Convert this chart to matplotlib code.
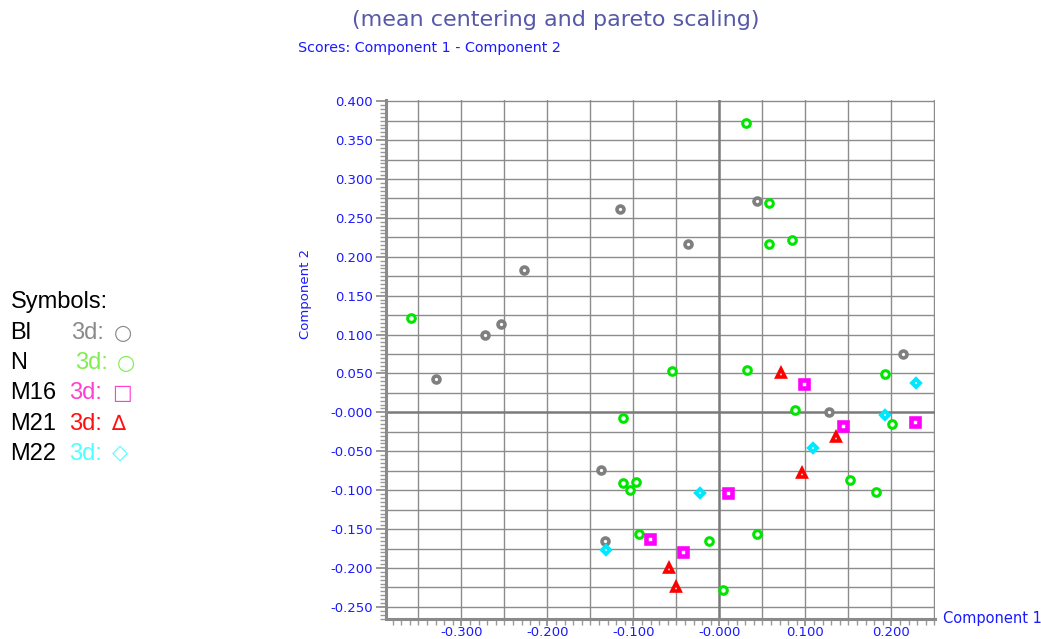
import numpy as np
import matplotlib
matplotlib.use("Agg")
import matplotlib.pyplot as plt
from matplotlib.ticker import MultipleLocator

# Scores (Component 1, Component 2) per group
bl_x = [-0.330, -0.272, -0.254, -0.227, -0.116, -0.036, 0.044, 0.214, 0.128, -0.138, -0.133]
bl_y = [0.043, 0.100, 0.114, 0.183, 0.262, 0.216, 0.272, 0.075, 0.001, -0.074, -0.165]

n_x = [-0.358, -0.055, 0.031, 0.058, 0.058, 0.085, 0.032, 0.192, 0.088, 0.201,
       0.152, 0.182, 0.044, -0.012, 0.004, -0.112, -0.112, -0.097, -0.104, -0.094]
n_y = [0.121, 0.053, 0.372, 0.269, 0.217, 0.222, 0.054, 0.049, 0.003, -0.015,
       -0.087, -0.102, -0.156, -0.165, -0.228, -0.007, -0.091, -0.089, -0.100, -0.156]

m16_x = [0.098, 0.144, 0.228, 0.010, -0.042, -0.081]
m16_y = [0.037, -0.017, -0.012, -0.103, -0.179, -0.163]

m21_x = [0.072, 0.136, 0.096, -0.058, -0.050]
m21_y = [0.051, -0.032, -0.078, -0.200, -0.224]

m22_x = [0.229, 0.193, 0.109, -0.023, -0.132]
m22_y = [0.038, -0.003, -0.046, -0.104, -0.177]

x_ticks = [-0.3, -0.2, -0.1, 0.0, 0.1, 0.2]
x_labels = ["-0.300", "-0.200", "-0.100", "-0.000", "0.100", "0.200"]
y_ticks = [-0.25, -0.2, -0.15, -0.1, -0.05, 0.0, 0.05, 0.1, 0.15, 0.2, 0.25, 0.3, 0.35, 0.4]
y_labels = ["-0.250", "-0.200", "-0.150", "-0.100", "-0.050", "-0.000", "0.050",
            "0.100", "0.150", "0.200", "0.250", "0.300", "0.350", "0.400"]

# legend rows: name, colour of the "3d:" part, symbol
legend_names = ["Bl", "N", "M16", "M21", "M22"]
legend_colors = ["#8a8a8a", "#80ee50", "#ff3fd0", "#ff1010", "#50ffff"]
legend_syms = ["\u25cb", "\u25cb", "\u25a1", "\u2206", "\u25c7"]

blue = "#1a1aff"
grid_c = "#8c8c8c"

fig = plt.figure(figsize=(10.41, 6.39), dpi=100)
ax = fig.add_axes([0.3705, 0.032, 0.5275, 0.8115])
ax.set_xlim(-0.388, 0.2505)
ax.set_ylim(-0.265, 0.4015)

# grid
ax.xaxis.set_minor_locator(MultipleLocator(0.01))
ax.yaxis.set_minor_locator(MultipleLocator(0.005))
for gx in np.arange(-0.35, 0.26, 0.05):
    if abs(gx) > 1e-9:
        ax.axvline(gx, color=grid_c, lw=1.0, zorder=1)
for gy in np.arange(-0.25, 0.401, 0.025):
    if abs(gy) > 1e-9:
        ax.axhline(gy, color=grid_c, lw=1.0, zorder=1)
ax.axvline(0, color="#7a7a7a", lw=1.8, zorder=1)
ax.axhline(0, color="#7a7a7a", lw=1.8, zorder=1)

# points
ax.plot(bl_x, bl_y, "o", mfc="white", mec="#7f7f7f", ms=5.0, mew=2.6, ls="none", zorder=3)
ax.plot(n_x, n_y, "o", mfc="white", mec="#00e600", ms=5.5, mew=2.2, ls="none", zorder=3)
ax.plot(m16_x, m16_y, "s", mfc="white", mec="#ff00ff", ms=5.3, mew=3.3, ls="none", zorder=3)
ax.plot(m21_x, m21_y, "^", mfc="white", mec="#ff0000", ms=5.7, mew=2.6, ls="none", zorder=3)
ax.plot(m22_x, m22_y, "D", mfc="white", mec="#00e8ff", ms=4.0, mew=2.8, ls="none", zorder=3)

# axes, ticks
ax.set_xticks(x_ticks)
ax.set_xticklabels(x_labels)
ax.set_yticks(y_ticks)
ax.set_yticklabels(y_labels)
ax.tick_params(axis="y", which="major", direction="out", length=7, width=1.2,
               color="#888888", labelcolor=blue, labelsize=9.5, pad=2)
ax.tick_params(axis="x", which="major", direction="out", length=5, width=1.2,
               color="#888888", labelcolor=blue, labelsize=9.5, pad=0.5)
ax.tick_params(axis="both", which="minor", direction="out", length=4, width=1.0,
               color="#999999")
for side in ["top", "right"]:
    ax.spines[side].set_visible(False)
for side in ["left", "bottom"]:
    ax.spines[side].set_color("#8a8a8a")
    ax.spines[side].set_linewidth(2.2)

# texts
fig.text(0.534, 0.968, "(mean centering and pareto scaling)", color="#5658a8",
         fontsize=16, ha="center", va="center")
fig.text(0.286, 0.925, "Scores: Component 1 - Component 2", color=blue,
         fontsize=10.3, ha="left", va="center")
fig.text(0.293, 0.54, "Component 2", color=blue, fontsize=9.5, rotation=90,
         ha="center", va="center")
fig.text(0.906, 0.032, "Component 1", color=blue, fontsize=10.5, ha="left", va="center")

fam = ["Liberation Sans", "DejaVu Sans"]
fig.text(0.010, 1 - 302 / 639, "Symbols:", color="black", fontsize=17,
         family=fam, ha="left", va="center")
row_x = [71, 75, 69, 69, 69]
sym_x = [114, 117, 112, 111, 112]
for i, name in enumerate(legend_names):
    yy = 1 - (333 + 30.2 * i) / 639
    fig.text(0.010, yy, name, color="black", fontsize=17, family=fam,
             ha="left", va="center")
    fig.text(row_x[i] / 1041, yy, "3d:", color=legend_colors[i],
             fontsize=17, family=fam, ha="left", va="center")
    fig.text(sym_x[i] / 1041, yy, legend_syms[i], color=legend_colors[i],
             fontsize=15, family="DejaVu Sans", ha="left", va="center")

fig.savefig("out.png", dpi=100)
